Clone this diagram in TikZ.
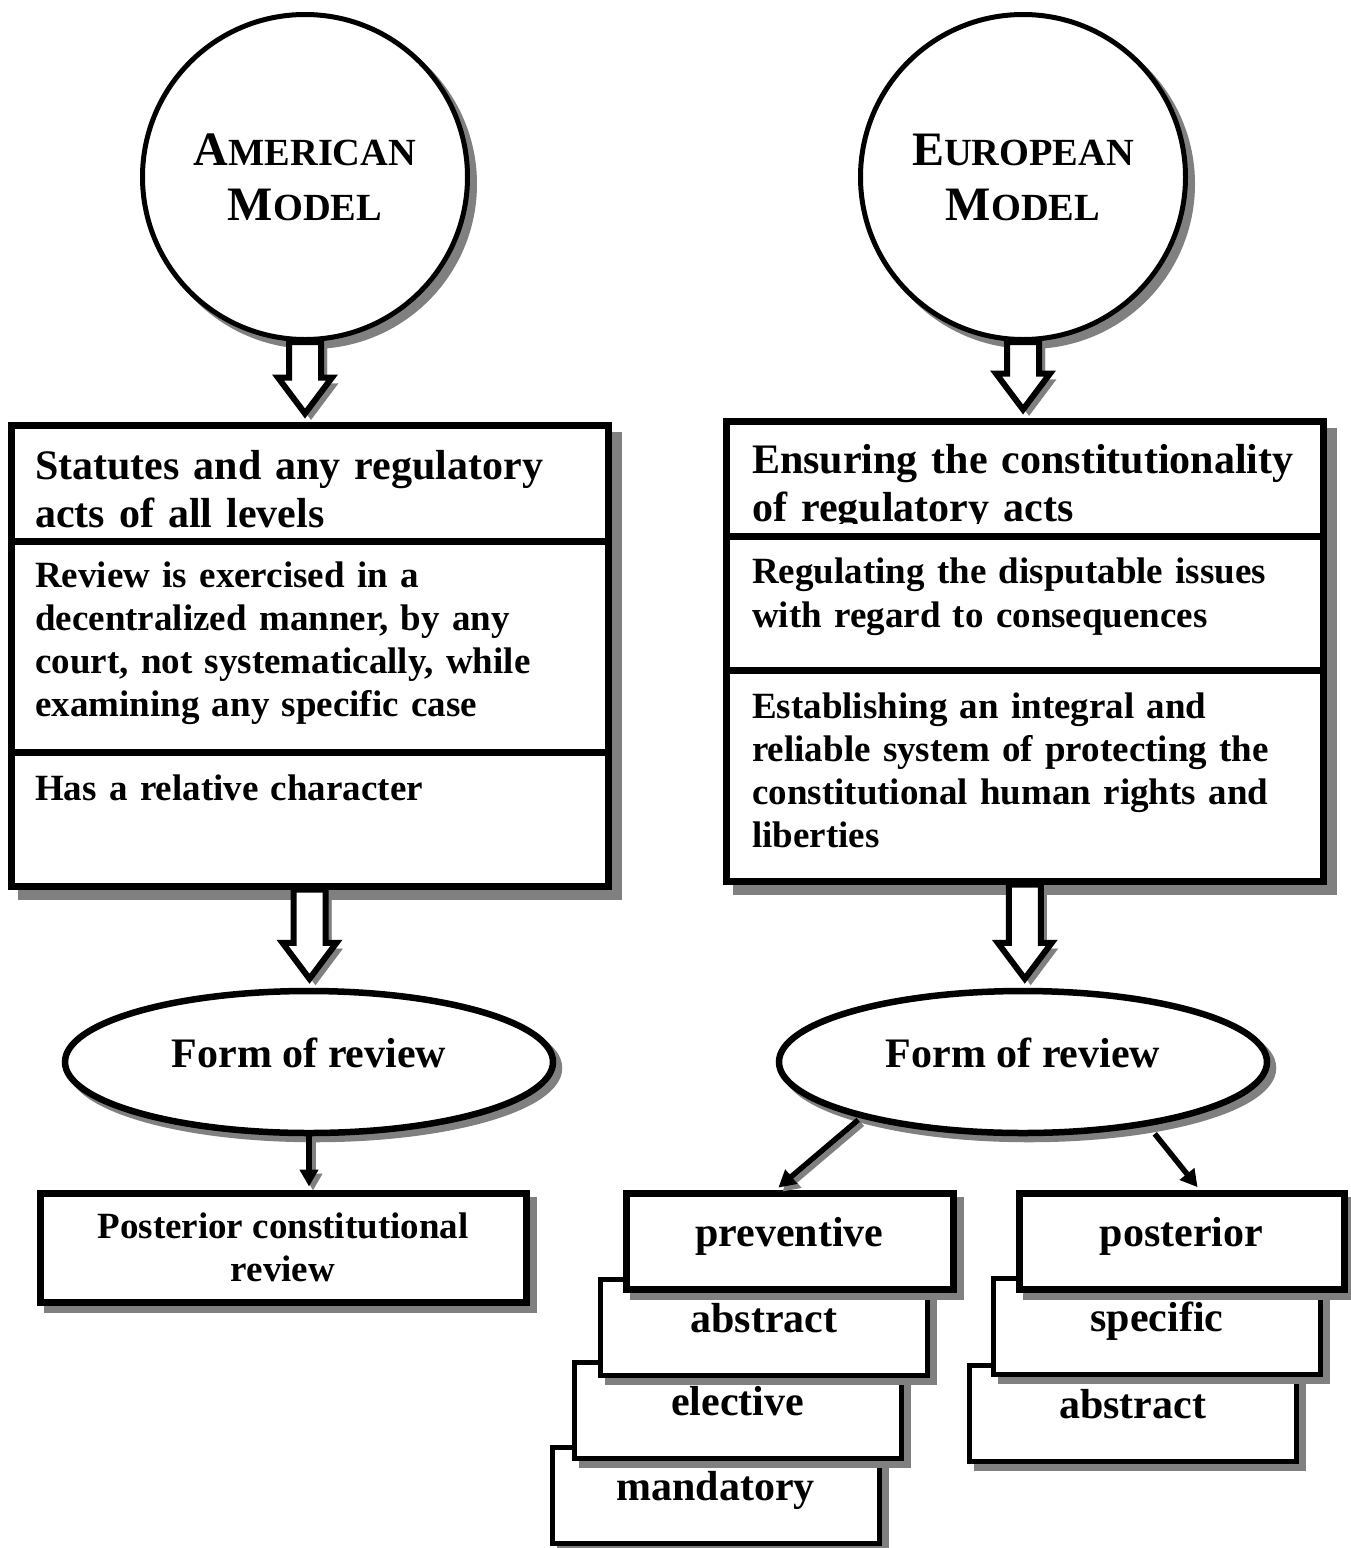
\documentclass[tikz,border=0pt]{standalone}
\usepackage{fontspec}
\setmainfont{Liberation Serif}
\usetikzlibrary{shapes.geometric, arrows.meta, calc}
\definecolor{shadowgray}{HTML}{808080}

\newcommand\hollowarrow[2]{%
  \draw[hollow] let \p1=(#1), \p2=(#2) in
    (\x1-16pt,\y1) -- (\x1-16pt,\y2+36pt) -- (\x1-27pt,\y2+36pt) -- (\x1,\y2)
    -- (\x1+27pt,\y2+36pt) -- (\x1+16pt,\y2+36pt) -- (\x1+16pt,\y1) -- cycle;}

\newcommand\bigA[1]{{\fontsize{48}{55}\selectfont #1}}
\newcommand\smallC[1]{{\fontsize{38.4}{55}\selectfont #1}}

\tikzset{
  shadowed/.style={preaction={draw=shadowgray, fill=shadowgray, transform canvas={xshift=#1, yshift=-#1}}},
  modelcircle/.style={circle, draw, line width=5pt, fill=white, minimum size=325pt, inner sep=0pt,
    align=center, shadowed=7pt, font=\bfseries\fontsize{48}{55}\selectfont},
  bigbox/.style={rectangle, draw, line width=7pt, fill=white, inner sep=0pt, shadowed=10pt},
  divider/.style={line width=7pt},
  headtext/.style={anchor=base west, inner sep=0pt, text width=570pt, align=left,
    font=\bfseries\fontsize{42}{48.5}\selectfont},
  bodytext/.style={anchor=base west, inner sep=0pt, text width=570pt, align=left,
    font=\bfseries\fontsize{37}{43.3}\selectfont},
  formell/.style={ellipse, draw, line width=6.5pt, fill=white, minimum width=488pt, minimum height=142pt,
    inner sep=0pt, shadowed=6pt, font=\bfseries\fontsize{42}{48}\selectfont, text height=28pt, text depth=18pt},
  smallbox/.style={rectangle, draw, line width=5pt, fill=white, inner sep=0pt, minimum width=327pt,
    minimum height=96pt, shadowed=7pt, font=\bfseries\fontsize{42}{48}\selectfont,
    text height=28pt, text depth=18pt},
  topbox/.style={smallbox, line width=7pt},
  resultbox/.style={rectangle, draw, line width=7pt, fill=white, inner sep=0pt, shadowed=7pt,
    align=center, font=\bfseries\fontsize{37}{43}\selectfont},
  hollow/.style={draw, line width=6pt, fill=white, miter limit=10, shadowed=6pt},
  thinarrow/.style={line width=5.5pt, -{Triangle[length=17pt, width=18pt]}},
  thinshadow/.style={thinarrow, draw=shadowgray, fill=shadowgray, transform canvas={xshift=4pt, yshift=-4pt}},
}

\begin{document}
\begin{tikzpicture}[x=1pt, y=-1pt]
\useasboundingbox[fill=white] (0,0) rectangle (1351,1548);

% model circles
\node[modelcircle] (am) at (305,177) {\bigA{A}\smallC{MERICAN}\\\bigA{M}\smallC{ODEL}};
\node[modelcircle] (eu) at (1023,177) {\bigA{E}\smallC{UROPEAN}\\\bigA{M}\smallC{ODEL}};

% American box
\node[bigbox, minimum width=597pt, minimum height=461pt] (abox) at (309.5,655.5) {};
\begin{scope}
  \clip (14.5,428.5) rectangle (604.5,528);
  \node[headtext] (a1) at (35,479) {Statutes and any regulatory\\acts of all levels};
\end{scope}
\draw[divider] (11,541) -- (608,541);
\node[bodytext] (a2) at (35,587) {Review is exercised in a\\decentralized manner, by any\\court, not systematically, while\\examining any specific case};
\draw[divider] (11,752) -- (608,752);
\node[bodytext] (a3) at (35,800) {Has a relative character};

% European box
\node[bigbox, minimum width=596.5pt, minimum height=460pt] (ebox) at (1024.75,651) {};
\begin{scope}
  \clip (730,424.5) rectangle (1319.5,523);
  \node[headtext] (e1) at (752,473) {Ensuring the constitutionality\\of regulatory acts};
\end{scope}
\draw[divider] (726.5,536) -- (1323,536);
\node[bodytext, font=\bfseries\fontsize{37}{44.5}\selectfont] (e2) at (752,583) {Regulating the disputable issues\\with regard to consequences};
\draw[divider] (726.5,670) -- (1323,670);
\node[bodytext, font=\bfseries\fontsize{37}{43}\selectfont] (e3) at (752,718) {Establishing an integral and\\reliable system of protecting the\\constitutional human rights and\\liberties};

% form ellipses
\node[formell] (aell) at (309,1062) {Form of review};
\node[formell] (eell) at (1023,1062) {Form of review};

% hollow arrows
\hollowarrow{am.south}{$(abox.north)+(0,-8)$}
\hollowarrow{eu.south}{$(ebox.north)+(0,-8)$}
\hollowarrow{abox.south}{$(aell.north)+(0,-9)$}
\hollowarrow{ebox.south}{$(eell.north)+(0,-9)$}

% American result
\node[resultbox, minimum width=486pt, minimum height=109pt] (pbox) at (283,1247.5) {Posterior constitutional\\review};
\draw[thinshadow, shorten >=3pt] (aell.south) -- (aell.south |- pbox.north);
\draw[thinarrow, shorten >=3pt] (aell.south) -- (aell.south |- pbox.north);

% European stacked boxes
\node[smallbox] (mand) at (715.5,1495.5) {mandatory};
\node[smallbox] (elec) at (737.5,1410) {elective};
\node[smallbox] (abs1) at (764,1327.5) {abstract};
\node[topbox] (prev) at (789.5,1241) {preventive};
\node[smallbox] (abs2) at (1132.5,1413) {abstract};
\node[smallbox] (spec) at (1157,1326) {specific};
\node[topbox, minimum width=325pt] (post) at (1181.5,1241) {posterior};

\coordinate (pl) at ($(prev.north west)!0.46!(prev.north east)$);
\coordinate (pr) at ($(post.north west)!0.554!(post.north east)$);
\draw[thinshadow, shorten <=3pt, shorten >=3pt] (eell.199.5) -- (pl);
\draw[thinarrow, shorten <=3pt, shorten >=3pt] (eell.199.5) -- (pl);
\draw[thinarrow, shorten <=10pt, shorten >=3pt] (eell.333.8) -- (pr);
\end{tikzpicture}
\end{document}
